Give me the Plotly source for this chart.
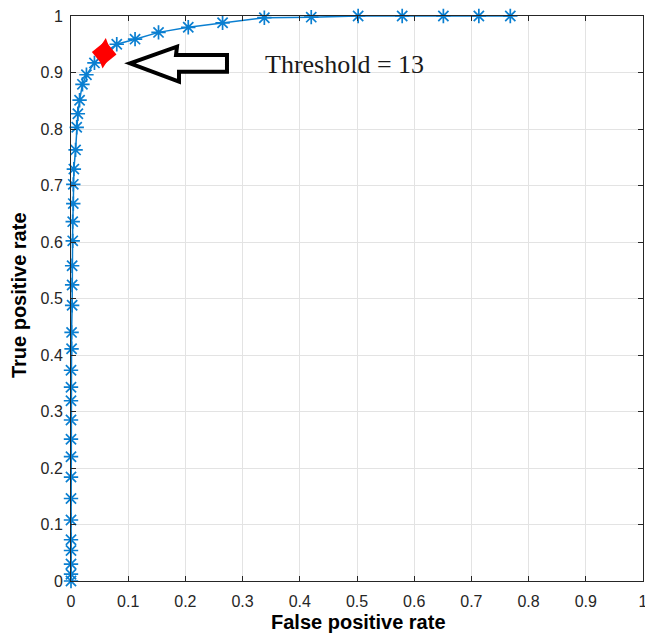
import plotly.graph_objects as go

# ROC curve data
fpr = [0.0, 0.0, 0.0, 0.0, 0.0, 0.0, 0.0, 0.0, 0.0, 0.0, 0.0, 0.0, 0.0, 0.0,
       0.001, 0.001, 0.002, 0.002, 0.002, 0.003, 0.003, 0.004, 0.004, 0.005,
       0.008, 0.010, 0.012, 0.015, 0.020, 0.027, 0.041, 0.057, 0.080, 0.112,
       0.153, 0.205, 0.265, 0.338, 0.420, 0.502, 0.579, 0.651, 0.713, 0.768]
tpr = [0.0, 0.012, 0.030, 0.054, 0.073, 0.108, 0.146, 0.184, 0.220, 0.251,
       0.285, 0.319, 0.343, 0.373, 0.411, 0.440, 0.488, 0.524, 0.558, 0.602,
       0.636, 0.668, 0.702, 0.729, 0.763, 0.803, 0.827, 0.851, 0.879, 0.896,
       0.917, 0.934, 0.950, 0.959, 0.971, 0.980, 0.988, 0.997, 0.998, 1.0,
       1.0, 1.0, 1.0, 1.0]

# Chosen operating point
thr_fpr = [0.058]
thr_tpr = [0.934]
thr_label = "Threshold = 13"

x_ticks = [0, 0.1, 0.2, 0.3, 0.4, 0.5, 0.6, 0.7, 0.8, 0.9, 1]
x_ticktext = ["0", "0.1", "0.2", "0.3", "0.4", "0.5", "0.6", "0.7", "0.8", "0.9", "1"]
y_ticks = [0, 0.1, 0.2, 0.3, 0.4, 0.5, 0.6, 0.7, 0.8, 0.9, 1]
y_ticktext = ["0", "0.1", "0.2", "0.3", "0.4", "0.5", "0.6", "0.7", "0.8", "0.9", "1"]

BLUE = "#0a7fd1"
AX = "#262626"

fig = go.Figure()
fig.add_trace(go.Scatter(
    x=fpr, y=tpr, mode="lines+markers",
    line=dict(color=BLUE, width=1.5),
    marker=dict(symbol="asterisk-open", size=12, color=BLUE,
                line=dict(color=BLUE, width=1.7)),
    cliponaxis=False, showlegend=False,
))
# operating point: a tall red rhombus (union of two diamond glyphs)
for sym, sz in (("diamond", 19), ("diamond-tall", 22)):
    fig.add_trace(go.Scatter(
        x=thr_fpr, y=thr_tpr, mode="markers",
        marker=dict(symbol=sym, size=sz, color="#ff0000", angle=6,
                    line=dict(width=0)),
        cliponaxis=False, showlegend=False,
    ))

# hollow left-pointing arrow (decoration)
arrow_path = ("M 0.1031 0.9163 L 0.1853 0.9457 L 0.1836 0.9310 L 0.2727 0.9310 "
              "L 0.2727 0.9014 L 0.1888 0.9014 L 0.1888 0.8837 Z")
fig.add_shape(type="path", path=arrow_path, xref="x", yref="y",
              line=dict(color="black", width=4), fillcolor="white", layer="above")

fig.add_annotation(x=0.479, y=0.914, xref="x", yref="y", text=thr_label,
                   showarrow=False, xanchor="center", yanchor="middle",
                   font=dict(family="Liberation Serif", size=26, color="#1a1a1a"))

# axis titles
fig.add_annotation(x=-0.0909, y=0.506, xref="paper", yref="paper",
                   text="<b>True positive rate</b>", textangle=-90, showarrow=False,
                   xanchor="center", yanchor="middle",
                   font=dict(family="Liberation Sans", size=20, color="black"))
fig.add_annotation(x=0.502, y=-0.050, xref="paper", yref="paper",
                   text="<b>False positive rate</b>", showarrow=False,
                   xanchor="center", yanchor="top",
                   font=dict(family="Liberation Sans", size=20, color="black"))

axis_common = dict(
    showgrid=True, gridcolor="#e3e3e3", gridwidth=1,
    zeroline=False, showline=True, linecolor=AX, linewidth=1,
    mirror="ticks", ticks="inside", ticklen=5, tickwidth=1, tickcolor=AX,
    tickfont=dict(family="Liberation Sans", size=16, color=AX),
    ticklabeloverflow="allow",
    automargin=False,
)
fig.update_xaxes(range=[0, 1], tickvals=x_ticks, ticktext=x_ticktext,
                 ticklabelstandoff=6, **axis_common)
fig.update_yaxes(range=[0, 1], tickvals=y_ticks, ticktext=y_ticktext,
                 ticklabelstandoff=4, **axis_common)

fig.update_layout(
    width=645, height=635,
    margin=dict(l=71, r=2, t=16, b=54),
    paper_bgcolor="white", plot_bgcolor="white",
)

fig.write_html("out.html")
